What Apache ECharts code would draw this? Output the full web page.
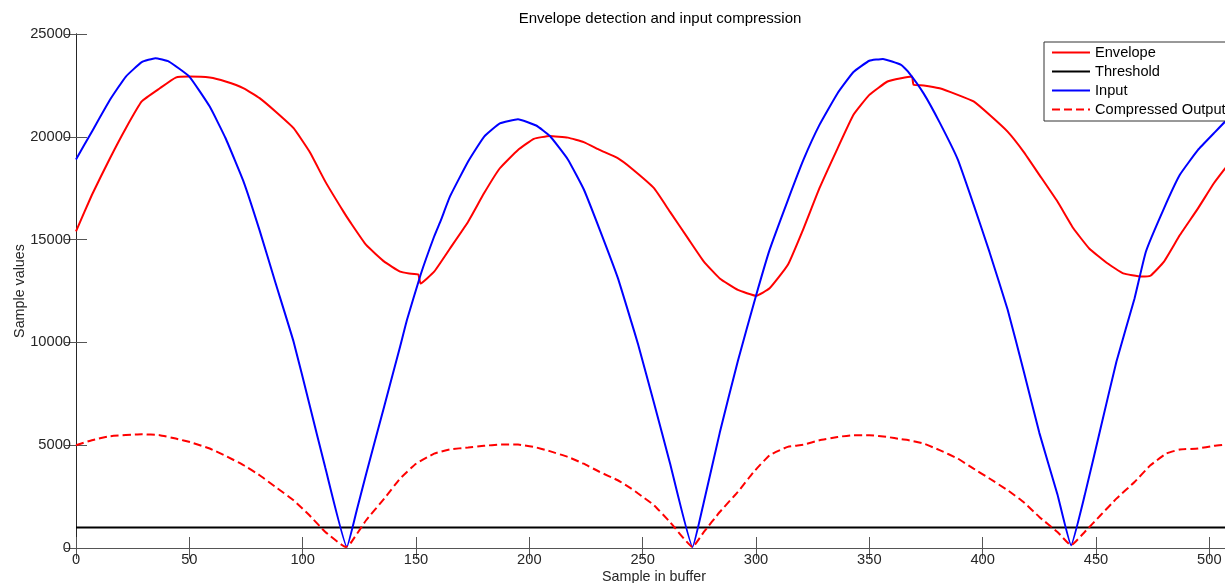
<!DOCTYPE html>
<html>
<head>
<meta charset="utf-8">
<title>Envelope detection and input compression</title>
<script src="https://cdn.jsdelivr.net/npm/echarts@6/dist/echarts.min.js"></script>
<style>
  html, body { margin: 0; padding: 0; background: #fff; }
  #main { width: 1225px; height: 583px; }
</style>
</head>
<body>
<div id="main"></div>
<script>
// values (sample index -> value)
const envelopeX = [0, 7, 15, 22, 29, 37, 44, 50, 59, 66, 74, 81, 88, 96, 103, 110, 118, 121, 128, 136, 143, 147, 151, 152, 158, 165, 173, 180, 187, 195, 202, 209, 217, 224, 231, 239, 245, 255, 262, 270, 277, 284, 292, 300, 306, 314, 321, 328, 336, 343, 350, 358, 364, 368.8, 369.5, 374, 381, 389, 396, 403, 411, 418, 425, 433, 440, 447, 455, 462, 470, 474, 480, 487, 495, 502, 507, 510];
const envelopeY = [15400, 17170, 18960, 20420, 21720, 22360, 22880, 22930, 22880, 22690, 22360, 21880, 21230, 20420, 19280, 17820, 16360, 15850, 14740, 13930, 13440, 13350, 13300, 12870, 13440, 14570, 15870, 17250, 18470, 19360, 19900, 20040, 19960, 19740, 19360, 18960, 18470, 17500, 16360, 15060, 13930, 13110, 12550, 12270, 12630, 13760, 15550, 17500, 19440, 21070, 22040, 22690, 22850, 22930, 22530, 22500, 22360, 22040, 21720, 21070, 20250, 19280, 18150, 16850, 15550, 14570, 13850, 13360, 13200, 13240, 13930, 15220, 16520, 17740, 18470, 18900];

const thresholdX = [0, 510];
const thresholdY = [1000, 1000];

const inputX = [0, 7, 15, 22, 29, 35, 41, 50, 59, 66, 74, 81, 88, 96, 103, 110, 119.5, 124, 128, 136, 143, 146, 152, 158, 161, 165, 173, 180, 187, 195, 203, 209, 217, 224, 231, 239, 245, 248, 255, 262, 272, 277, 284, 292, 300, 306, 314, 321, 328, 336, 343, 350, 356, 364, 367, 374, 381, 389, 396, 403, 411, 418, 425, 433, 439, 445, 452, 459, 467, 472, 480, 487, 495, 502, 507, 510];
const inputY = [18900, 20250, 21800, 22930, 23630, 23825, 23660, 22930, 21470, 19930, 17800, 15450, 12900, 10030, 6980, 3900, 50, 1900, 3600, 6900, 9800, 11090, 13280, 15150, 15950, 17100, 18800, 20000, 20650, 20855, 20550, 20050, 18900, 17450, 15500, 13150, 11000, 9900, 7050, 4150, 50, 2240, 5600, 9100, 12270, 14500, 16900, 18900, 20580, 22120, 23150, 23700, 23790, 23500, 23180, 22100, 20700, 18900, 16700, 14400, 11600, 8650, 5600, 2600, 130, 2560, 5810, 9060, 12140, 14410, 16520, 18150, 19360, 20170, 20740, 21000];

const compressedX = [0, 7, 15, 29, 37, 44, 51, 59, 66, 74, 81, 88, 96, 103, 110, 119, 121, 128, 136, 143, 150, 158, 165, 173, 180, 187, 195, 202, 209, 217, 224, 231, 239, 245, 248, 255, 262, 272, 277, 284, 292, 299, 306, 314, 321, 328, 336, 343, 350, 358, 364, 367, 374, 381, 389, 396, 403, 411, 418, 425, 433, 439, 445, 452, 459, 467, 474, 481, 487, 495, 502, 507, 510];
const compressedY = [5000, 5240, 5437, 5534, 5486, 5323, 5130, 4837, 4480, 4025, 3538, 2970, 2320, 1590, 780, 50, 210, 1350, 2400, 3380, 4100, 4590, 4800, 4885, 4970, 5030, 5030, 4920, 4710, 4430, 4100, 3700, 3295, 2890, 2650, 2080, 1270, 50, 780, 1750, 2730, 3700, 4510, 4920, 5030, 5240, 5400, 5490, 5490, 5400, 5290, 5250, 5080, 4760, 4350, 3860, 3380, 2810, 2240, 1510, 780, 130, 780, 1590, 2400, 3210, 4020, 4590, 4790, 4840, 4970, 5030, 5050];

const legendNames = ['Envelope', 'Threshold', 'Input', 'Compressed Output'];

const FONT = 'Liberation Sans, Arial, Helvetica, sans-serif';

function pairs (xs, ys) {
  let out = [];
  for (let i = 0; i < xs.length; i++) {
    out.push([xs[i], ys[i]]);
  }
  return out;
}

function lineSeries (name, xs, ys, color, type) {
  return {
    name: name,
    type: 'line',
    symbol: 'none',
    smooth: 0.12,
    xAxisIndex: 0,
    yAxisIndex: 0,
    lineStyle: { color: color, width: 2, type: type || 'solid' },
    itemStyle: { color: color },
    data: pairs(xs, ys)
  };
}

const axisLineStyle = { color: '#262626', width: 1 };
const tickStyle = { color: '#555', width: 1 };

let myChart = echarts.init(document.getElementById('main'));
myChart.setOption({
  animation: false,
  title: {
    text: 'Envelope detection and input compression',
    left: 660,
    top: 11,
    padding: 0,
    textAlign: 'center',
    textStyle: { fontSize: 15, fontWeight: 'normal', color: '#000', fontFamily: FONT }
  },
  legend: {
    orient: 'vertical',
    left: 1044,
    top: 42,
    padding: [3, 30, 4, 7],
    itemWidth: 38,
    itemHeight: 14,
    itemGap: 4,
    backgroundColor: '#fff',
    borderColor: '#333',
    borderWidth: 1,
    itemStyle: { opacity: 0 },
    textStyle: { fontSize: 14.6, color: '#000', fontFamily: FONT },
    data: legendNames
  },
  grid: {
    left: 76,
    right: -7,
    top: 34,
    bottom: 35,
    containLabel: false,
    outerBoundsMode: 'none'
  },
  xAxis: [{
    type: 'value',
    position: 'bottom',
    min: 0,
    max: 510,
    interval: 50,
    name: 'Sample in buffer',
    nameLocation: 'middle',
    nameGap: 22,
    nameMoveOverlap: false,
    nameTextStyle: { fontSize: 14.3, color: '#262626', fontFamily: FONT },
    axisLine: { show: true, lineStyle: axisLineStyle },
    axisTick: { show: true, inside: true, length: 11, lineStyle: tickStyle },
    axisLabel: { showMaxLabel: false, fontSize: 14.7, color: '#262626', fontFamily: FONT, margin: 4 },
    splitLine: { show: false }
  }, {
    type: 'value',
    position: 'top',
    min: 0,
    max: 510,
    interval: 50,
    axisLine: { show: true, lineStyle: { color: '#555', width: 1 } },
    axisTick: { show: true, inside: true, length: 11, lineStyle: tickStyle },
    axisLabel: { show: false },
    splitLine: { show: false }
  }],
  yAxis: [{
    type: 'value',
    position: 'left',
    min: 0,
    max: 25000,
    interval: 5000,
    name: 'Sample values',
    nameLocation: 'middle',
    nameGap: 49,
    nameMoveOverlap: false,
    nameTextStyle: { fontSize: 14.3, color: '#262626', fontFamily: FONT },
    axisLine: { show: true, lineStyle: axisLineStyle },
    axisTick: { show: true, inside: true, length: 11, lineStyle: tickStyle },
    axisLabel: {
      fontSize: 14.7, color: '#262626', fontFamily: FONT, margin: 5,
      formatter: function (v) { return String(v); }
    },
    splitLine: { show: false }
  }, {
    type: 'value',
    position: 'right',
    min: 0,
    max: 25000,
    interval: 5000,
    axisLine: { show: true, lineStyle: axisLineStyle },
    axisTick: { show: true, inside: true, length: 11, lineStyle: tickStyle },
    axisLabel: { show: false },
    splitLine: { show: false }
  }],
  series: [
    lineSeries(legendNames[0], envelopeX, envelopeY, '#ff0000'),
    lineSeries(legendNames[1], thresholdX, thresholdY, '#000000'),
    lineSeries(legendNames[2], inputX, inputY, '#0000ff'),
    lineSeries(legendNames[3], compressedX, compressedY, '#ff0000', [8, 4])
  ]
});
</script>
</body>
</html>
